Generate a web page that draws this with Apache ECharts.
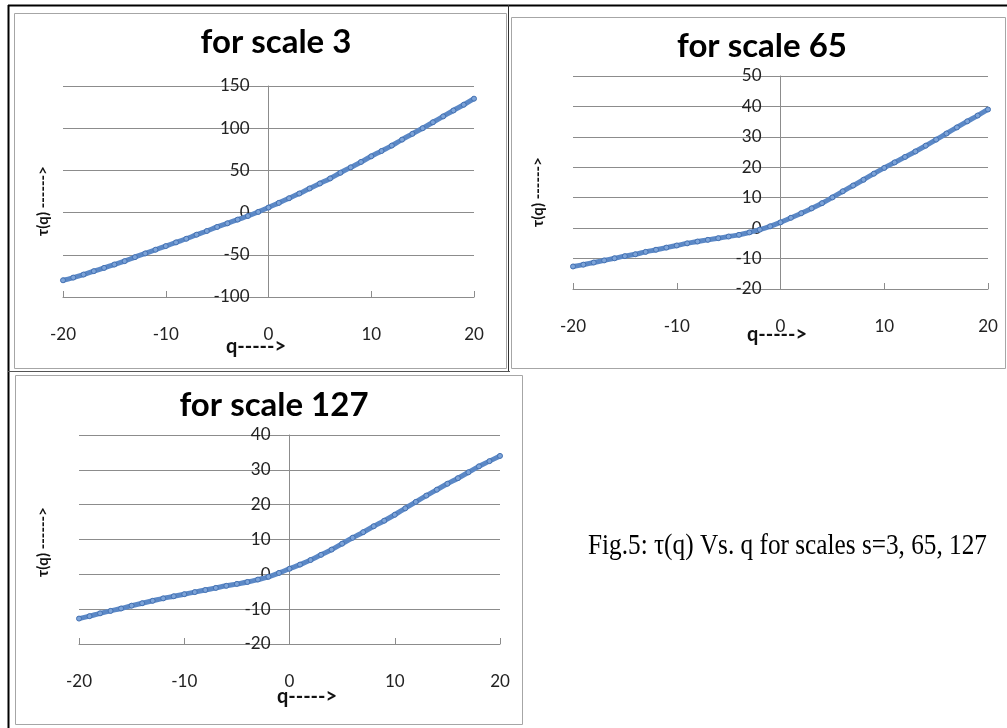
<!DOCTYPE html>
<html>
<head>
<meta charset="utf-8">
<script src="https://cdn.jsdelivr.net/npm/echarts@6/dist/echarts.min.js"></script>
<style>
html,body{margin:0;padding:0;background:#fff;}
#chart{width:1007px;height:728px;}
</style>
</head>
<body>
<div id="chart"></div>
<script>
const qValues = [-20,-19,-18,-17,-16,-15,-14,-13,-12,-11,-10,-9,-8,-7,-6,-5,-4,-3,-2,-1,0,1,2,3,4,5,6,7,8,9,10,11,12,13,14,15,16,17,18,19,20];
const tauScale3 = [-80.2,-77,-73.4,-69.4,-65.5,-61.5,-57.5,-52.8,-48.4,-44,-39.7,-35.3,-31,-26.2,-21.8,-17,-12.7,-8.3,-4,0.8,6,11.5,17,22.6,28.6,34.5,40.5,47.2,53.6,60,66.7,73,79.4,86.5,93.3,100,107,114,121,127.8,135];
const tauScale65 = [-12.6,-12.0,-11.3,-10.6,-9.9,-9.2,-8.6,-7.8,-7.1,-6.4,-5.7,-5.0,-4.4,-3.85,-3.3,-2.75,-2.2,-1.4,-0.5,0.6,1.9,3.4,4.9,6.5,8.2,10.1,12.1,14.0,15.9,17.9,19.8,21.6,23.4,25.2,27.1,29.1,31.1,33.1,35.1,37.0,39];
const tauScale127 = [-12.7,-12.0,-11.2,-10.5,-9.8,-9.0,-8.3,-7.6,-6.9,-6.3,-5.7,-5.1,-4.5,-3.9,-3.3,-2.75,-2.2,-1.5,-0.7,0.4,1.6,2.8,4.1,5.6,7.1,8.8,10.5,12.1,13.8,15.4,17.1,18.95,20.8,22.6,24.3,26.0,27.6,29.3,31,32.5,34];
const xTicks = [-20,-10,0,10,20];
const yTicks3 = [-100,-50,0,50,100,150];
const yTicks65 = [-20,-10,0,10,20,30,40,50];
const yTicks127 = [-20,-10,0,10,20,30,40];
const panelTitles = ['for scale 3','for scale 65','for scale 127'];
const xAxisName = 'q----->';
const yAxisName = '\u03c4(q) ------>';
const caption = 'Fig.5: \u03c4(q) Vs. q for scales s=3, 65, 127';

const chart = echarts.init(document.getElementById('chart'), null, {renderer:'canvas'});
const GRAY = '#8c8c8c';
const seriesList = [tauScale3, tauScale65, tauScale127];
const yTickList = [yTicks3, yTicks65, yTicks127];

const grids = [
  {left:63, top:86, width:411, height:211},
  {left:573, top:76, width:415, height:213},
  {left:79, top:435, width:421, height:209}
];
const xMin = xTicks[0], xMax = xTicks[xTicks.length-1];

function mkX(i){
  return {
    type:'value', gridIndex:i,
    min:xMin, max:xMax, interval:xTicks[1]-xTicks[0],
    axisLine:{show:true, onZero:false, lineStyle:{color:GRAY, width:1}},
    axisTick:{show:true, inside:true, length:6, lineStyle:{color:GRAY}},
    splitLine:{show:false},
    axisLabel:{margin:29, fontFamily:'Lato', fontSize:17, color:'#222', showMinLabel:true, showMaxLabel:true}
  };
}
function mkY(i){
  const t = yTickList[i];
  // place the y axis where q = 0 (Excel style crossing)
  const off = -grids[i].width * (0 - xMin) / (xMax - xMin);
  return {
    type:'value', gridIndex:i, position:'left', offset:off,
    min:t[0], max:t[t.length-1], interval:t[1]-t[0],
    axisLine:{show:true, onZero:false, lineStyle:{color:GRAY, width:1}},
    axisTick:{show:false},
    splitLine:{show:true, lineStyle:{color:GRAY, width:1}},
    axisLabel:{margin:19, fontFamily:'Lato', fontSize:17, color:'#222', showMinLabel:true, showMaxLabel:true}
  };
}

// caption scale
const cv = document.createElement('canvas').getContext('2d');
cv.font = '29px "Liberation Serif"';
const capW = cv.measureText(caption).width;
const capScale = 399 / capW;

const titleFont = {fontFamily:'Lato', fontWeight:'bold', fontSize:33, fill:'#000', align:'center', verticalAlign:'middle'};
function txt(x,y,text,style,extra){
  return Object.assign({type:'text', x:x, y:y, silent:true, style:Object.assign({text:text}, style)}, extra||{});
}
const nameStyleX = {fontFamily:'Lato', fontWeight:'bold', fontSize:20, fill:'#111', align:'center', verticalAlign:'middle'};
const nameStyleY = {fontFamily:'Lato', fontWeight:'bold', fontSize:15, fill:'#111', align:'center', verticalAlign:'middle'};

const graphics = [
  {type:'rect', shape:{x:14.5, y:13.5, width:492, height:355}, style:{fill:'none', stroke:'#a6a6a6', lineWidth:1}, silent:true, z:-1},
  {type:'rect', shape:{x:511.5, y:17.5, width:494, height:351}, style:{fill:'none', stroke:'#a6a6a6', lineWidth:1}, silent:true, z:-1},
  {type:'rect', shape:{x:15.5, y:375.5, width:507, height:349}, style:{fill:'none', stroke:'#a6a6a6', lineWidth:1}, silent:true, z:-1},
  {type:'line', shape:{x1:8, y1:5.5, x2:1007, y2:5.5}, style:{stroke:'#000', lineWidth:2}, silent:true},
  {type:'line', shape:{x1:8.5, y1:5, x2:8.5, y2:728}, style:{stroke:'#000', lineWidth:2}, silent:true},
  {type:'line', shape:{x1:508.5, y1:5, x2:508.5, y2:371}, style:{stroke:'#333', lineWidth:1}, silent:true},
  {type:'line', shape:{x1:8, y1:371.5, x2:510, y2:371.5}, style:{stroke:'#555', lineWidth:1}, silent:true},
  txt(276, 42, panelTitles[0], titleFont),
  txt(762, 46, panelTitles[1], titleFont),
  txt(274, 405, panelTitles[2], titleFont),
  txt(256, 347, xAxisName, nameStyleX),
  txt(777, 335, xAxisName, nameStyleX),
  txt(307, 697, xAxisName, nameStyleX),
  txt(43, 201, yAxisName, nameStyleY, {rotation:Math.PI/2}),
  txt(538, 192, yAxisName, nameStyleY, {rotation:Math.PI/2}),
  txt(43, 542, yAxisName, nameStyleY, {rotation:Math.PI/2}),
  txt(588, 546, caption, {fontFamily:'Liberation Serif', fontSize:29, fill:'#000', align:'left', verticalAlign:'middle'}, {scaleX:capScale})
];

const option = {
  backgroundColor:'#fff',
  animation:false,
  grid: grids.map(g => Object.assign({containLabel:false, outerBoundsMode:'none'}, g)),
  xAxis:[mkX(0), mkX(1), mkX(2)],
  yAxis:[mkY(0), mkY(1), mkY(2)],
  series: seriesList.map((vals, i) => ({
    type:'line', xAxisIndex:i, yAxisIndex:i,
    data: qValues.map((q, k) => [q, vals[k]]),
    smooth:true,
    symbol:'circle', symbolSize:5, showAllSymbol:true,
    lineStyle:{color:'#5b88c6', width:5},
    itemStyle:{color:'#7ca3d8', borderColor:'#4471b2', borderWidth:1},
    z:3
  })),
  graphic: graphics
};
chart.setOption(option);
</script>
</body>
</html>
